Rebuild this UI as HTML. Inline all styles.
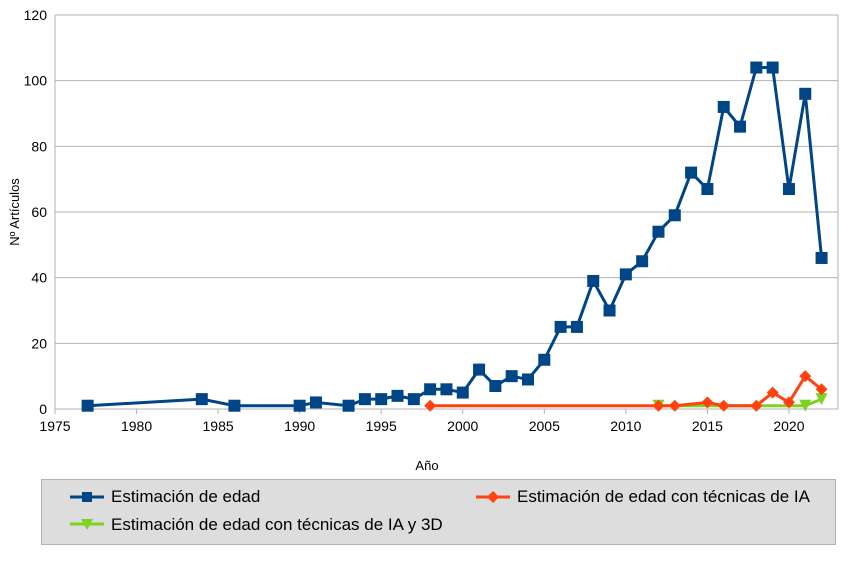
<!DOCTYPE html>
<html><head><meta charset="utf-8"><style>
body{margin:0;background:#fff;font-family:"Liberation Sans",sans-serif}
svg text{font-family:"Liberation Sans",sans-serif;fill:#000}
</style></head><body>
<svg id="chart" width="862" height="560">
<rect x="0" y="0" width="862" height="560" fill="#fff"/>
<g id="grid"></g><g id="axes"></g><g id="series"></g>
<text x="427" y="470" font-size="13" text-anchor="middle">Año</text>
<text x="19" y="212" font-size="13" text-anchor="middle" transform="rotate(-90 19 212)">Nº Artículos</text>
<g>
<rect x="41.5" y="479.5" width="794" height="65" fill="#dddddd" stroke="#b3b3b3"/>
<g>
<line x1="70" y1="497" x2="104" y2="497" stroke="#004586" stroke-width="3"/><rect x="82" y="492" width="10" height="10" fill="#004586"/>
<text x="111" y="502" font-size="17">Estimación de edad</text></g>
<g>
<line x1="476" y1="497" x2="510" y2="497" stroke="#ff420e" stroke-width="3"/><path d="M493 491 L499 497 L493 503 L487 497Z" fill="#ff420e"/>
<text x="517" y="502" font-size="17">Estimación de edad con técnicas de IA</text></g>
<g>
<line x1="70" y1="524" x2="104" y2="524" stroke="#7ed321" stroke-width="3"/><path d="M81 519 L93 519 L87 530Z" fill="#7ed321"/>
<text x="111" y="530" font-size="17">Estimación de edad con técnicas de IA y 3D</text></g>
</g>
</svg>
<script>
const blueYears=[1977,1984,1986,1990,1991,1993,1994,1995,1996,1997,1998,1999,2000,2001,2002,2003,2004,2005,2006,2007,2008,2009,2010,2011,2012,2013,2014,2015,2016,2017,2018,2019,2020,2021,2022];
const blueVals=[1,3,1,1,2,1,3,3,4,3,6,6,5,12,7,10,9,15,25,25,39,30,41,45,54,59,72,67,92,86,104,104,67,96,46];
const redYears=[1998,2012,2013,2015,2016,2018,2019,2020,2021,2022];
const redVals=[1,1,1,2,1,1,5,2,10,6];
const greenYears=[2012,2021,2022];
const greenVals=[1,1,3];
const xTicks=[1975,1980,1985,1990,1995,2000,2005,2010,2015,2020];
const yTicks=[0,20,40,60,80,100,120];
const L=55,R=838,T=15,B=409,XMIN=1975,PXY=16.31,YMAX=120;
const X=v=>L+(v-XMIN)*PXY, Y=v=>B-(v/YMAX)*(B-T);
const NS="http://www.w3.org/2000/svg";
function mk(tag,attrs,parent){const e=document.createElementNS(NS,tag);for(const k in attrs)e.setAttribute(k,attrs[k]);parent.appendChild(e);return e;}
const grid=document.getElementById('grid'),axes=document.getElementById('axes'),ser=document.getElementById('series');
yTicks.forEach(t=>{const y=Y(t);
 const g=mk('line',{x1:L,x2:R,y1:y,y2:y,stroke:'#b3b3b3'},grid);
 
 
 const tx=mk('text',{x:L-8,y:y+5,'font-size':14,'text-anchor':'end'},axes);tx.textContent=t;
 
 });
mk('line',{x1:L,x2:L,y1:T,y2:B,stroke:'#b3b3b3'},grid);
mk('line',{x1:R,x2:R,y1:T,y2:B,stroke:'#b3b3b3'},grid);
xTicks.forEach(t=>{const x=X(t);
 mk('line',{x1:x,x2:x,y1:B,y2:B+5,stroke:'#b3b3b3'},axes);
 const tx=mk('text',{x:x,y:B+22,'font-size':14,'text-anchor':'middle'},axes);tx.textContent=t;
 
 });
function series(xs,vs,color,shape,name){
 const pts=xs.map((x,i)=>X(x)+','+Y(vs[i])).join(' ');
 const pl=mk('polyline',{points:pts,fill:'none',stroke:color,'stroke-width':3,'stroke-linejoin':'round'},ser);
 
 
 xs.forEach((x,i)=>{const cx=X(x),cy=Y(vs[i]);let m;
  if(shape==='sq')m=mk('rect',{x:cx-6,y:cy-6,width:12,height:12,fill:color},ser);
  else if(shape==='di')m=mk('path',{d:`M${cx} ${cy-6}L${cx+6} ${cy}L${cx} ${cy+6}L${cx-6} ${cy}Z`,fill:color},ser);
  else m=mk('path',{d:`M${cx-6} ${cy-6}L${cx+6} ${cy-6}L${cx} ${cy+6}Z`,fill:color},ser);
  
  });
}
series(blueYears,blueVals,'#004586','sq','edad');
series(greenYears,greenVals,'#7ed321','tri','ia-3d');
series(redYears,redVals,'#ff420e','di','ia');
</script>
</body></html>
